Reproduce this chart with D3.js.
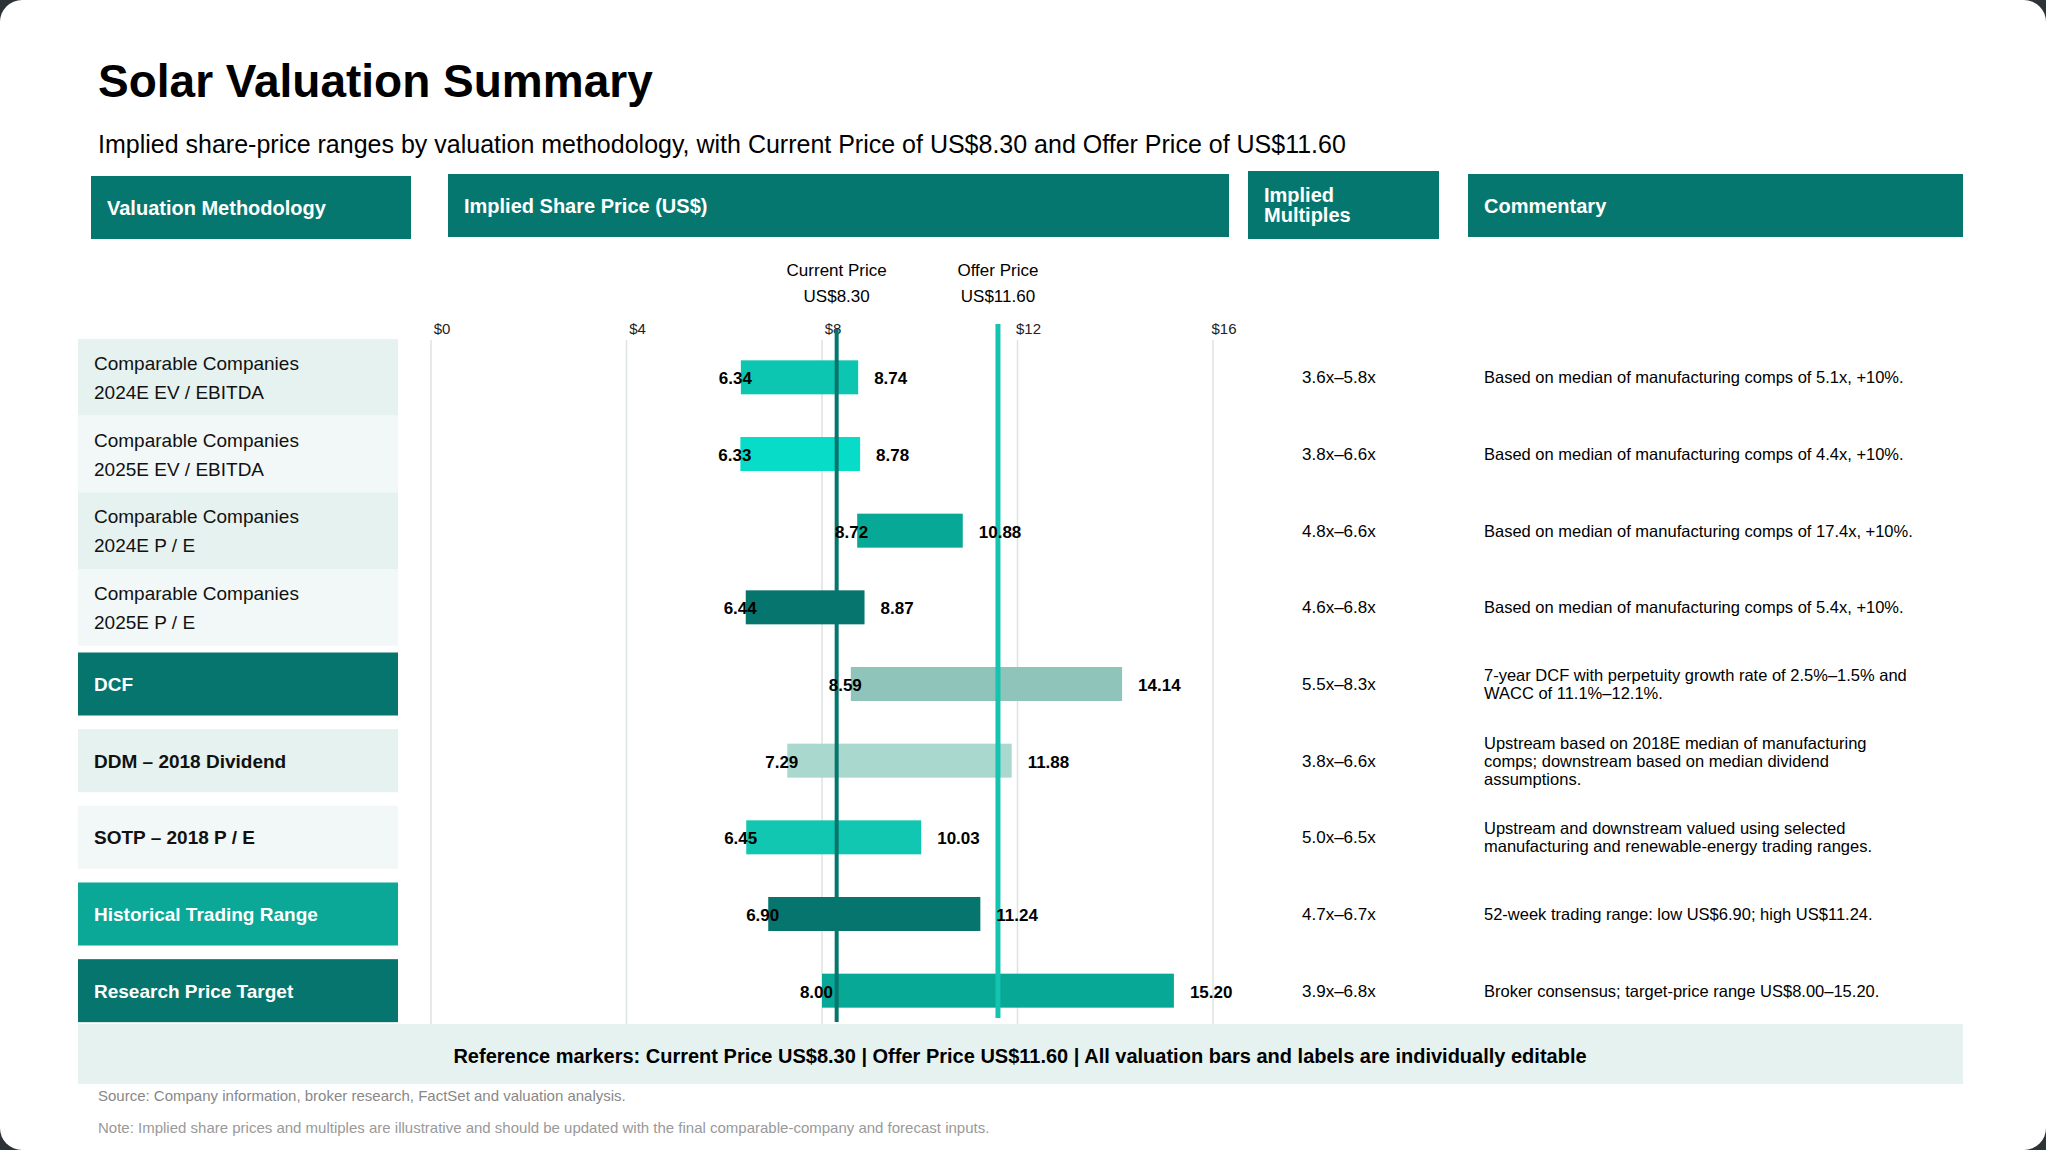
<!DOCTYPE html>
<html>
<head>
<meta charset="utf-8">
<script src="https://cdn.jsdelivr.net/npm/d3@7"></script>
<style>
  body { margin: 0; background: #2c3438; }
  svg { display: block; font-family: "Liberation Sans", Arial, sans-serif; }
</style>
</head>
<body>
<svg id="chart" width="2046" height="1150"></svg>
<script>
// data
const methods = [
  ["Comparable Companies", "2024E EV / EBITDA"],
  ["Comparable Companies", "2025E EV / EBITDA"],
  ["Comparable Companies", "2024E P / E"],
  ["Comparable Companies", "2025E P / E"],
  ["DCF"],
  ["DDM – 2018 Dividend"],
  ["SOTP – 2018 P / E"],
  ["Historical Trading Range"],
  ["Research Price Target"]
];
const lows = [6.34, 6.33, 8.72, 6.44, 8.59, 7.29, 6.45, 6.90, 8.00];
const highs = [8.74, 8.78, 10.88, 8.87, 14.14, 11.88, 10.03, 11.24, 15.20];
const multiples = ["3.6x–5.8x", "3.8x–6.6x", "4.8x–6.6x", "4.6x–6.8x", "5.5x–8.3x", "3.8x–6.6x", "5.0x–6.5x", "4.7x–6.7x", "3.9x–6.8x"];
const commentary = [
  ["Based on median of manufacturing comps of 5.1x, +10%."],
  ["Based on median of manufacturing comps of 4.4x, +10%."],
  ["Based on median of manufacturing comps of 17.4x, +10%."],
  ["Based on median of manufacturing comps of 5.4x, +10%."],
  ["7-year DCF with perpetuity growth rate of 2.5%–1.5% and", "WACC of 11.1%–12.1%."],
  ["Upstream based on 2018E median of manufacturing", "comps; downstream based on median dividend", "assumptions."],
  ["Upstream and downstream valued using selected", "manufacturing and renewable-energy trading ranges."],
  ["52-week trading range: low US$6.90; high US$11.24."],
  ["Broker consensus; target-price range US$8.00–15.20."]
];
const barColors = ["#0cc6b1", "#06dcc8", "#08a897", "#06756d", "#8fc4ba", "#a9d8ce", "#12c7b1", "#06756d", "#08a897"];
const tickValues = [0, 4, 8, 12, 16];
const currentPrice = 8.30, offerPrice = 11.60;

const svg = d3.select("#chart");
svg.append("rect").attr("width", 2046).attr("height", 1150).attr("rx", 22).attr("fill", "#fff");

svg.append("text").attr("x", 98).attr("y", 97).attr("font-size", 46).attr("font-weight", "bold").text("Solar Valuation Summary");
svg.append("text").attr("x", 98).attr("y", 153).attr("font-size", 25)
  .text("Implied share-price ranges by valuation methodology, with Current Price of US$8.30 and Offer Price of US$11.60");

// header boxes
const headers = [
  { x: 91, y: 176, w: 320, h: 63, lines: ["Valuation Methodology"] },
  { x: 448, y: 174, w: 781, h: 63, lines: ["Implied Share Price (US$)"] },
  { x: 1248, y: 171, w: 191, h: 68, lines: ["Implied", "Multiples"] },
  { x: 1468, y: 174, w: 495, h: 63, lines: ["Commentary"] }
];
headers.forEach(h => {
  svg.append("rect").attr("x", h.x).attr("y", h.y).attr("width", h.w).attr("height", h.h).attr("fill", "#06776e");
  h.lines.forEach((l, i) => {
    svg.append("text").attr("x", h.x + 16).attr("y", h.y + h.h / 2 + 7 + (i - (h.lines.length - 1) / 2) * 20)
      .attr("fill", "#fff").attr("font-size", 20).attr("font-weight", "bold").text(l);
  });
});

const x = d3.scaleLinear().domain([0, 16]).range([431, 1213]);
const y = d3.scaleBand().domain(d3.range(methods.length)).range([339, 1029]).paddingInner(0);
const cy = i => y(i) + y.bandwidth() / 2;

// row label boxes
const boxFill = ["#e6f2ef", "#f2f8f7", "#e6f2ef", "#f2f8f7", "#06756d", "#e6f2ef", "#f2f8f7", "#0ba898", "#06756d"];
methods.forEach((m, i) => {
  const multi = m.length > 1;
  const h = multi ? y.bandwidth() : 63;
  const top = multi ? y(i) : cy(i) - h / 2;
  svg.append("rect").attr("x", 78).attr("y", top).attr("width", 320).attr("height", h).attr("fill", boxFill[i]);
  const dark = i === 4 || i >= 7;
  m.forEach((l, j) => {
    svg.append("text").attr("x", 94).attr("y", cy(i) + 7 + (j - (m.length - 1) / 2) * 29)
      .attr("font-size", 19).attr("font-weight", multi ? "normal" : "bold")
      .attr("fill", dark ? "#fff" : "#111").text(l);
  });
});

// grid + ticks
svg.selectAll(".grid").data(tickValues).enter().append("line")
  .attr("x1", d => x(d)).attr("x2", d => x(d)).attr("y1", 340).attr("y2", 1024)
  .attr("stroke", "#dde3e2").attr("stroke-width", 1.5);
svg.selectAll(".tick").data(tickValues).enter().append("text")
  .attr("x", d => x(d) + 11).attr("y", 334).attr("text-anchor", "middle").attr("font-size", 15).attr("fill", "#222")
  .text(d => "$" + d);

// bars
svg.selectAll(".bar").data(lows).enter().append("rect")
  .attr("x", d => x(d)).attr("y", (d, i) => cy(i) - 17)
  .attr("width", (d, i) => x(highs[i]) - x(d)).attr("height", 34)
  .attr("fill", (d, i) => barColors[i]);

// marker lines
svg.append("line").attr("x1", x(currentPrice)).attr("x2", x(currentPrice)).attr("y1", 329).attr("y2", 1022)
  .attr("stroke", "#06756d").attr("stroke-width", 4);
svg.append("line").attr("x1", x(offerPrice)).attr("x2", x(offerPrice)).attr("y1", 324).attr("y2", 1018)
  .attr("stroke", "#14c4b0").attr("stroke-width", 5);
[[currentPrice, "Current Price", "US$8.30"], [offerPrice, "Offer Price", "US$11.60"]].forEach(([v, a, b]) => {
  svg.append("text").attr("x", x(v)).attr("y", 276).attr("text-anchor", "middle").attr("font-size", 17).text(a);
  svg.append("text").attr("x", x(v)).attr("y", 302).attr("text-anchor", "middle").attr("font-size", 17).text(b);
});

// value labels
svg.selectAll(".lo").data(lows).enter().append("text")
  .attr("x", d => x(d) + 11).attr("y", (d, i) => cy(i) + 7).attr("text-anchor", "end")
  .attr("font-size", 17).attr("font-weight", "bold").text(d => d.toFixed(2));
svg.selectAll(".hi").data(highs).enter().append("text")
  .attr("x", d => x(d) + 16).attr("y", (d, i) => cy(i) + 7)
  .attr("font-size", 17).attr("font-weight", "bold").text(d => d.toFixed(2));

// multiples + commentary
svg.selectAll(".mult").data(multiples).enter().append("text")
  .attr("x", 1302).attr("y", (d, i) => cy(i) + 6).attr("font-size", 17).text(d => d);
commentary.forEach((c, i) => {
  c.forEach((l, j) => {
    svg.append("text").attr("x", 1484).attr("y", cy(i) + 6 + (j - (c.length - 1) / 2) * 18)
      .attr("font-size", 16.5).text(l);
  });
});

// footer
svg.append("rect").attr("x", 78).attr("y", 1024).attr("width", 1885).attr("height", 60).attr("fill", "#e6f2ef");
svg.append("text").attr("x", 1020).attr("y", 1063).attr("text-anchor", "middle").attr("font-size", 20).attr("font-weight", "bold")
  .text("Reference markers: Current Price US$8.30 | Offer Price US$11.60 | All valuation bars and labels are individually editable");
svg.append("text").attr("x", 98).attr("y", 1101).attr("font-size", 15).attr("fill", "#888")
  .text("Source: Company information, broker research, FactSet and valuation analysis.");
svg.append("text").attr("x", 98).attr("y", 1133).attr("font-size", 15).attr("fill", "#999")
  .text("Note: Implied share prices and multiples are illustrative and should be updated with the final comparable-company and forecast inputs.");
</script>
</body>
</html>
